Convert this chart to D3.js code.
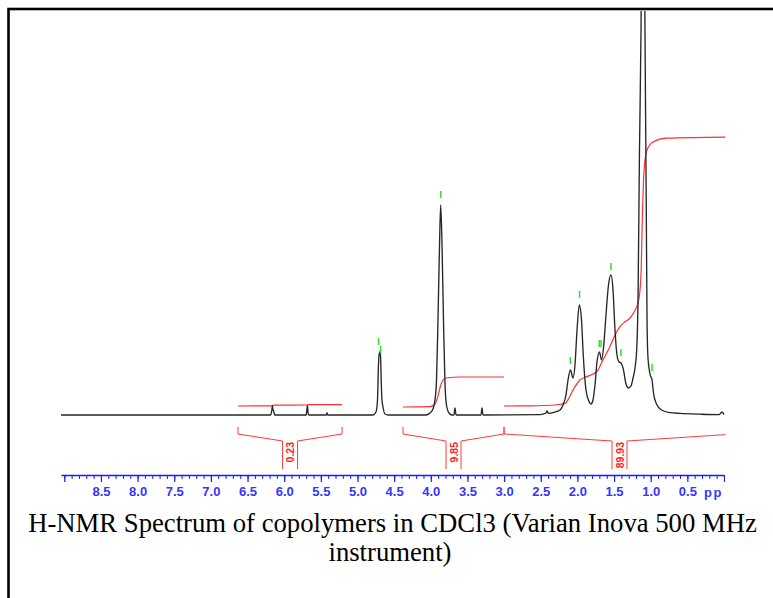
<!DOCTYPE html>
<html>
<head>
<meta charset="utf-8">
<script src="https://cdn.jsdelivr.net/npm/d3@7"></script>
<style>
  html, body { margin: 0; padding: 0; background: #fff; }
  svg { display: block; }
</style>
</head>
<body>
<svg id="chart" width="773" height="598"></svg>
<script>
// Spectrum trace: [ppm, intensity]
const spectrum = [
  [9.045, 0], [6.185, 0],
  [6.172, 0.9], [6.166, 1.6], [6.160, 2.4], [6.154, 1.4], [6.146, 1.1], [6.138, 0.5], [6.128, 0],
  [5.700, 0], [5.690, 1.4], [5.683, 2.4], [5.675, 0.6], [5.664, 0],
  [5.426, 0], [5.416, 0.6], [5.406, 0],
  [4.789, 0], [4.748, 0.75], [4.727, 3.75], [4.714, 12.5], [4.700, 15.75], [4.686, 14.75],
  [4.675, 7.5], [4.666, 3.75], [4.652, 2], [4.625, 0.25], [4.584, 0],
  [4.065, 0], [4.011, 0.5], [3.970, 1.5], [3.943, 3.75], [3.922, 8.75], [3.902, 23.75],
  [3.881, 42.5], [3.865, 52.5], [3.847, 42.5], [3.827, 23.75], [3.806, 7.5], [3.786, 2.5],
  [3.752, 0.5], [3.711, 0],
  [3.684, 0], [3.670, 1.75], [3.656, 0],
  [3.315, 0], [3.302, 1.75], [3.288, 0],
  [2.510, 0.1], [2.428, 0.5], [2.415, 1], [2.394, 0.4], [2.306, 0.75], [2.237, 1.25],
  [2.196, 2.5], [2.156, 5], [2.128, 8.75], [2.094, 11.25], [2.060, 9.25], [2.033, 12.5],
  [2.005, 21.25], [1.974, 27.5], [1.944, 23.75], [1.920, 15], [1.883, 6.25], [1.842, 3.4],
  [1.814, 2.75], [1.787, 3.75], [1.760, 7.5], [1.733, 13.25], [1.699, 15.75], [1.671, 13.75],
  [1.644, 16.75], [1.610, 25], [1.576, 32.5], [1.542, 35], [1.514, 31.25], [1.487, 21.25],
  [1.460, 15], [1.432, 13.25], [1.405, 13], [1.371, 11.25], [1.337, 7.75], [1.303, 6.75],
  [1.269, 7.25], [1.241, 9.25], [1.214, 11.75], [1.191, 16.25], [1.173, 28.75], [1.153, 66.25],
  [1.132, 96.25], [1.105, 178.75], [1.078, 96.25], [1.061, 53.75], [1.050, 23.75], [1.037, 14.25],
  [1.010, 10.25], [0.982, 8.75], [0.962, 5.5], [0.921, 2.75], [0.853, 1.25], [0.737, 0.6],
  [0.600, 0.4], [0.327, 0.2], [0.068, 0.1], [0.027, 0.75], [0.0, 0.1]
];

// Integral curves: [ppm, level]
const integral1 = [[6.63, 2.25], [6.17, 2.3], [6.14, 2.45], [5.69, 2.5], [5.67, 2.6], [5.21, 2.6]];
const integral2 = [
  [4.379, 2], [4.011, 2.1], [3.943, 2.75], [3.902, 4.75], [3.868, 7.25], [3.834, 8.75],
  [3.793, 9.25], [3.602, 9.5], [3.001, 9.5]
];
const integral3 = [
  [3.001, 2.25], [2.647, 2.3], [2.306, 2.5], [2.169, 2.9], [2.115, 4.25], [2.060, 6.25],
  [1.965, 8.75], [1.873, 9.6], [1.737, 10.8], [1.651, 13.75], [1.555, 17.1], [1.487, 20],
  [1.419, 22.1], [1.351, 23.3], [1.282, 24.25], [1.228, 25.75], [1.173, 28], [1.146, 31.25],
  [1.130, 36.25], [1.115, 48.75], [1.098, 58.75], [1.078, 63.75], [1.050, 66.25], [0.969, 68.25],
  [0.778, 69.2], [-0.15, 69.5]
];

// Integral regions and values
const regions = [
  { from: 6.63, to: 5.21, label: '0.23' },
  { from: 4.379, to: 3.001, label: '9.85' },
  { from: 3.001, to: -0.15, label: '89.93' }
];

// Peak-pick markers: [ppm, level]
const peakMarks = [
  [4.712, 17.5], [4.686, 15.5], [3.864, 54.25], [2.096, 12.75], [1.971, 29.25],
  [1.701, 17], [1.678, 17], [1.542, 36.25], [1.405, 14.75], [0.982, 11]
];

const majorTicks = d3.range(0, 18.5).map(i => i * 0.5);
const minorTicks = d3.range(0, 91).map(i => i / 10);
const unitLabel = 'ppm';
const titleLines = [
  'H-NMR Spectrum of copolymers in CDCl3 (Varian Inova 500 MHz',
  'instrument)'
];

const svg = d3.select('#chart');

const x = d3.scaleLinear().domain([9.045, 0]).range([61, 724]);
const y = d3.scaleLinear().domain([0, 100]).range([415, 15]);

const defs = svg.append('defs');
defs.append('clipPath').attr('id', 'plot-clip')
  .append('rect').attr('x', 55).attr('y', 11).attr('width', 670.5).attr('height', 500);
defs.append('clipPath').attr('id', 'axis-clip')
  .append('rect').attr('x', 40).attr('y', 460).attr('width', 685).attr('height', 50);
defs.append('clipPath').attr('id', 'unit-clip')
  .append('rect').attr('x', 690).attr('y', 480).attr('width', 32.5).attr('height', 30);

// Frame (right and bottom edges run off the picture)
svg.append('rect')
  .attr('x', 8.5).attr('y', 9).attr('width', 800).attr('height', 620)
  .attr('fill', 'none').attr('stroke', '#000').attr('stroke-width', 2.6);

const plot = svg.append('g').attr('clip-path', 'url(#plot-clip)');

const line = d3.line()
  .x(d => x(d[0]))
  .y(d => y(d[1]))
  .curve(d3.curveMonotoneX);

// Integral curves
[integral1, integral2, integral3].forEach(seg => {
  plot.append('path')
    .datum(seg)
    .attr('d', line)
    .attr('fill', 'none')
    .attr('stroke', '#ff3030')
    .attr('stroke-width', 1.2);
});

// Spectrum
plot.append('path')
  .datum(spectrum)
  .attr('d', line)
  .attr('fill', 'none')
  .attr('stroke', '#262626')
  .attr('stroke-width', 1.35)
  .attr('stroke-linejoin', 'round');

// Peak markers
plot.selectAll('line.mark')
  .data(peakMarks)
  .join('line')
  .attr('class', 'mark')
  .attr('x1', d => x(d[0])).attr('x2', d => x(d[0]))
  .attr('y1', d => y(d[1])).attr('y2', d => y(d[1]) - 7)
  .attr('stroke', '#2ee02e')
  .attr('stroke-width', 1.5);

// Integral brackets
const bTop = 427, bMid = 434, bLow = 441, bBot = 469, hw = 7.5;
const brackets = plot.selectAll('g.bracket')
  .data(regions)
  .join('g')
  .attr('class', 'bracket');

brackets.append('path')
  .attr('d', d => {
    const x0 = x(d.from), x1 = x(d.to), cx = (x0 + x1) / 2;
    return `M${x0},${bTop}V${bMid}L${cx - hw},${bLow}V${bBot}` +
           `M${cx + hw},${bBot}V${bLow}L${x1},${bMid}V${bTop}`;
  })
  .attr('fill', 'none')
  .attr('stroke', '#ff3a3a')
  .attr('stroke-width', 1);

brackets.append('text')
  .attr('transform', d => `translate(${(x(d.from) + x(d.to)) / 2 + 4},${bLow + 1}) rotate(-90)`)
  .attr('text-anchor', 'end')
  .attr('fill', '#ff2020')
  .attr('font-family', 'Liberation Sans, Arial, sans-serif')
  .attr('font-weight', 'bold')
  .attr('font-size', '10.5px')
  .text(d => d.label);

// Axis
const axisG = svg.append('g').attr('clip-path', 'url(#axis-clip)');

axisG.append('g')
  .attr('transform', 'translate(0,475)')
  .call(d3.axisBottom(x).tickValues(minorTicks).tickSize(4).tickSizeOuter(0).tickFormat(''))
  .call(g => g.selectAll('line').attr('stroke', '#1a1aff'))
  .call(g => g.select('.domain').attr('stroke', '#1a1aff').attr('stroke-width', 1.4));

axisG.append('g')
  .attr('transform', 'translate(0,475)')
  .call(d3.axisBottom(x).tickValues(majorTicks).tickSize(7).tickSizeOuter(0)
    .tickFormat(d => (d === 0 || d === 9) ? '' : d3.format('.1f')(d)))
  .call(g => g.select('.domain').remove())
  .call(g => g.selectAll('line').attr('stroke', '#1a1aff').attr('stroke-width', 1.2))
  .call(g => g.selectAll('text')
    .attr('y', 12)
    .attr('fill', '#3535ff')
    .attr('font-family', 'Liberation Sans, Arial, sans-serif')
    .attr('font-weight', 'bold')
    .attr('font-size', '13px'));

svg.append('text')
  .attr('clip-path', 'url(#unit-clip)')
  .attr('x', 704).attr('y', 497)
  .attr('fill', '#3535ff')
  .attr('font-family', 'Liberation Sans, Arial, sans-serif')
  .attr('font-weight', 'bold')
  .attr('font-size', '13px')
  .attr('letter-spacing', '1.5px')
  .text(unitLabel);

// Caption
const caption = svg.append('g')
  .attr('font-family', 'Liberation Serif, Times New Roman, serif')
  .attr('fill', '#000')
  .attr('text-anchor', 'middle');

const first = caption.append('text')
  .attr('x', 392.5).attr('y', 532)
  .attr('font-size', '22px')
  .text(titleLines[0]);
const fitSize = 22 * 729 / first.node().getComputedTextLength();
first.attr('font-size', fitSize + 'px');

caption.append('text')
  .attr('x', 390).attr('y', 561)
  .attr('font-size', fitSize + 'px')
  .text(titleLines[1]);
</script>
</body>
</html>
